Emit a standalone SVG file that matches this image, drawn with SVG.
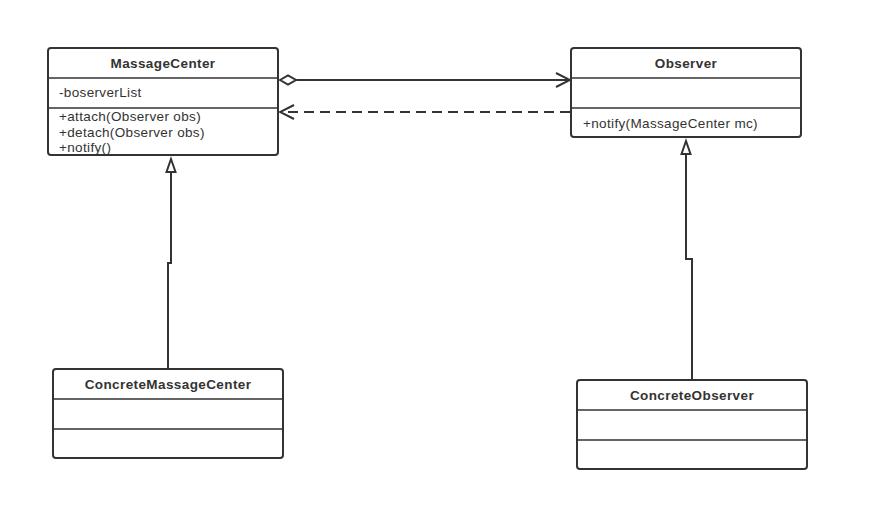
<svg xmlns="http://www.w3.org/2000/svg" width="869" height="532" viewBox="0 0 869 532">
<defs>
<style>
.box{fill:#fff;stroke:#333;stroke-width:2}
.div{stroke:#333;stroke-width:1.5;fill:none}
.t{font-family:"Liberation Sans",Arial,sans-serif;font-size:13.5px;fill:#333;letter-spacing:0.35px}
.b{font-weight:bold;text-anchor:middle;letter-spacing:0.4px}
.ln{stroke:#333;stroke-width:2;fill:none}
</style>
<marker id="open" viewBox="0 0 16 16" refX="15" refY="8" markerWidth="16" markerHeight="16" markerUnits="userSpaceOnUse" orient="auto">
<path d="M1 1 L15 8 L1 15" fill="none" stroke="#333" stroke-width="2"/>
</marker>
<marker id="dia" viewBox="0 0 20 12" refX="1" refY="6" markerWidth="20" markerHeight="12" markerUnits="userSpaceOnUse" orient="auto">
<path d="M1 6 L9 1.5 L17 6 L9 10.5 Z" fill="#fff" stroke="#333" stroke-width="2"/>
</marker>
</defs>
<rect width="869" height="532" fill="#fff"/>
<g id="connectors">
<path class="ln" d="M280 80 L570 80" marker-start="url(#dia)" marker-end="url(#open)"/>
<path class="ln" d="M570 112 L280 112" stroke-dasharray="10,6" marker-end="url(#open)"/>
<path class="ln" d="M168 369 L168 263 L171 263 L171 172"/>
<path d="M171 159 L175.5 172 L166.5 172 Z" fill="#fff" stroke="#333" stroke-width="2"/>
<path class="ln" d="M692 380 L692 259 L686 259 L686 154"/>
<path d="M686 141 L690.5 154 L681.5 154 Z" fill="#fff" stroke="#333" stroke-width="2"/>
</g>
<g id="MassageCenter">
<rect class="box" x="48" y="48" width="230" height="107" rx="3"/>
<path class="div" d="M48 78 H278 M48 108 H278"/>
<text class="t b" x="163" y="68">MassageCenter</text>
<text class="t" x="59" y="97">-boserverList</text>
<text class="t" x="59" y="121">+attach(Observer obs)</text>
<text class="t" x="59" y="137">+detach(Observer obs)</text>
<text class="t" x="59" y="152">+notify()</text>
</g>
<g id="Observer">
<rect class="box" x="571" y="48" width="230" height="89" rx="3"/>
<path class="div" d="M571 78 H801 M571 108 H801"/>
<text class="t b" x="686" y="68">Observer</text>
<text class="t" x="583" y="128">+notify(MassageCenter mc)</text>
</g>
<g id="ConcreteMassageCenter">
<rect class="box" x="53" y="369" width="230" height="89" rx="3"/>
<path class="div" d="M53 399 H283 M53 429 H283"/>
<text class="t b" x="168" y="389">ConcreteMassageCenter</text>
</g>
<g id="ConcreteObserver">
<rect class="box" x="577" y="380" width="230" height="89" rx="3"/>
<path class="div" d="M577 410 H807 M577 440 H807"/>
<text class="t b" x="692" y="400">ConcreteObserver</text>
</g>
</svg>
